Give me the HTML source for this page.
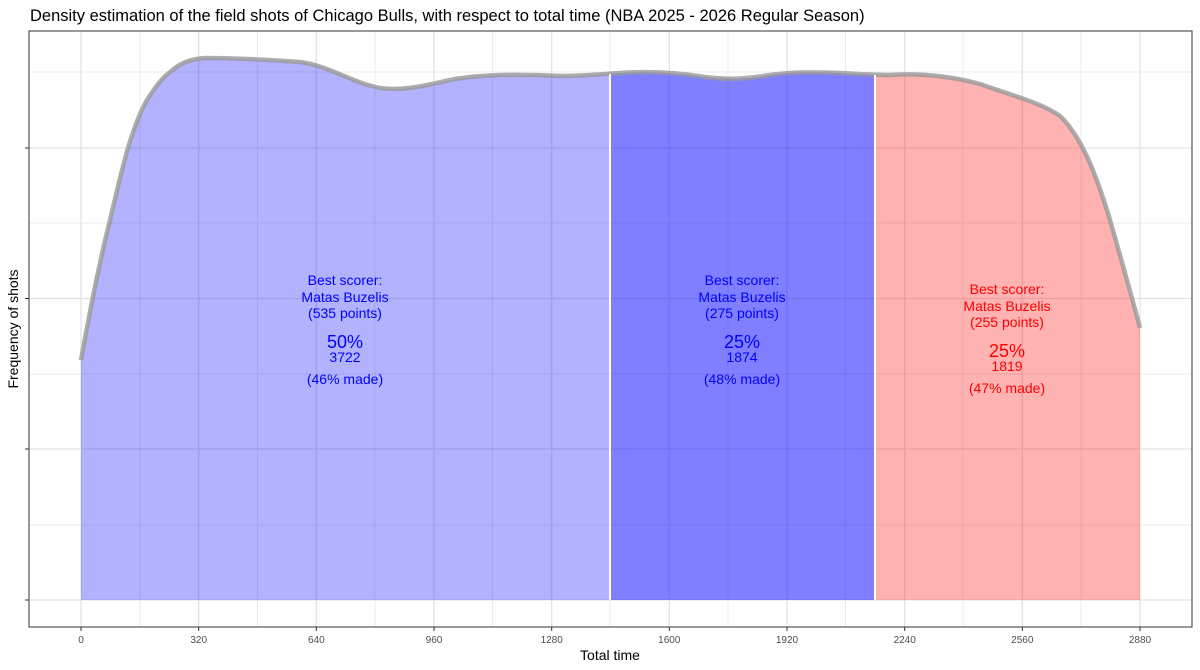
<!DOCTYPE html>
<html><head><meta charset="utf-8"><style>body{margin:0;background:#fff}svg{display:block;font-family:"Liberation Sans",sans-serif}</style></head><body>
<svg width="1200" height="670" viewBox="0 0 1200 670">
<text x="30" y="21" font-size="16.5" fill="#000">Density estimation of the field shots of Chicago Bulls, with respect to total time (NBA 2025 - 2026 Regular Season)</text>
<rect x="29" y="31" width="1163" height="596" fill="#fff"/>
<g stroke="#ebebeb" stroke-width="1">
<line x1="29" x2="1192" y1="72" y2="72"/><line x1="29" x2="1192" y1="223" y2="223"/><line x1="29" x2="1192" y1="374" y2="374"/><line x1="29" x2="1192" y1="525" y2="525"/>
<line y1="31" y2="627" x1="140" x2="140"/><line y1="31" y2="627" x1="257.5" x2="257.5"/><line y1="31" y2="627" x1="375" x2="375"/><line y1="31" y2="627" x1="492.5" x2="492.5"/><line y1="31" y2="627" x1="610" x2="610"/><line y1="31" y2="627" x1="728" x2="728"/><line y1="31" y2="627" x1="845.5" x2="845.5"/><line y1="31" y2="627" x1="963" x2="963"/><line y1="31" y2="627" x1="1081" x2="1081"/>
</g>
<g stroke="#e3e3e3" stroke-width="1.3">
<line x1="29" x2="1192" y1="148" y2="148"/><line x1="29" x2="1192" y1="298.5" y2="298.5"/><line x1="29" x2="1192" y1="449" y2="449"/><line x1="29" x2="1192" y1="600" y2="600"/>
<line y1="31" y2="627" x1="81" x2="81"/><line y1="31" y2="627" x1="198.7" x2="198.7"/><line y1="31" y2="627" x1="316.3" x2="316.3"/><line y1="31" y2="627" x1="434" x2="434"/><line y1="31" y2="627" x1="551.7" x2="551.7"/><line y1="31" y2="627" x1="669.3" x2="669.3"/><line y1="31" y2="627" x1="787" x2="787"/><line y1="31" y2="627" x1="904.7" x2="904.7"/><line y1="31" y2="627" x1="1022.3" x2="1022.3"/><line y1="31" y2="627" x1="1140" x2="1140"/>
</g>
<defs>
<path id="c" d="M81,360 C90,310 100,260 110,220 C116,195 122,168 128,148 C134,128 140,112 147,100 C155,87 162,78 170,72 C180,63 190,59 205,58 C240,58 270,60 300,62 C330,66 350,82 380,88 C400,91 420,87 450,80 C480,74 520,74 560,76 C585,76 600,74 620,73 C650,71 680,73 705,77 C730,80 745,79 770,75 C790,72 810,72 840,73 C860,74 875,75 890,75 C920,73 950,76 980,84 C1010,95 1040,102 1060,116 C1080,135 1095,170 1110,220 C1120,255 1130,290 1140,328"/>
<path id="f" d="M81,360 C90,310 100,260 110,220 C116,195 122,168 128,148 C134,128 140,112 147,100 C155,87 162,78 170,72 C180,63 190,59 205,58 C240,58 270,60 300,62 C330,66 350,82 380,88 C400,91 420,87 450,80 C480,74 520,74 560,76 C585,76 600,74 620,73 C650,71 680,73 705,77 C730,80 745,79 770,75 C790,72 810,72 840,73 C860,74 875,75 890,75 C920,73 950,76 980,84 C1010,95 1040,102 1060,116 C1080,135 1095,170 1110,220 C1120,255 1130,290 1140,328 L1140,600 L81,600 Z"/>
<clipPath id="a"><rect x="81" y="0" width="529" height="600"/></clipPath>
<clipPath id="b"><rect x="610" y="0" width="265" height="600"/></clipPath>
<clipPath id="r"><rect x="875" y="0" width="265" height="600"/></clipPath>
</defs>
<g clip-path="url(#a)"><use href="#f" fill="#0000ff" fill-opacity="0.3"/></g>
<g clip-path="url(#b)"><use href="#f" fill="#0000ff" fill-opacity="0.5"/></g>
<g clip-path="url(#r)"><use href="#f" fill="#ff0000" fill-opacity="0.3"/></g>
<use href="#c" fill="none" stroke="#999" stroke-opacity="0.8" stroke-width="4.5"/>
<line x1="610" x2="610" y1="74" y2="600" stroke="#fff" stroke-width="2"/>
<line x1="875" x2="875" y1="75" y2="600" stroke="#fff" stroke-width="2"/>
<rect x="29" y="31" width="1163" height="596" fill="none" stroke="#333" stroke-width="1"/>
<g font-size="14" text-anchor="middle" fill="#0000ff">
<text x="345" y="285">Best scorer:</text><text x="345" y="302">Matas Buzelis</text><text x="345" y="318">(535 points)</text>
<text x="345" y="348" font-size="18">50%</text><text x="345" y="362">3722</text><text x="345" y="384">(46% made)</text>
<text x="742" y="285">Best scorer:</text><text x="742" y="302">Matas Buzelis</text><text x="742" y="318">(275 points)</text>
<text x="742" y="348" font-size="18">25%</text><text x="742" y="362">1874</text><text x="742" y="384">(48% made)</text>
</g>
<g font-size="14" text-anchor="middle" fill="#ff0000">
<text x="1007" y="294">Best scorer:</text><text x="1007" y="311">Matas Buzelis</text><text x="1007" y="327">(255 points)</text>
<text x="1007" y="357" font-size="18">25%</text><text x="1007" y="371">1819</text><text x="1007" y="393">(47% made)</text>
</g>
<g stroke="#333" stroke-width="1">
<line x1="25" x2="29" y1="148" y2="148"/><line x1="25" x2="29" y1="298.5" y2="298.5"/><line x1="25" x2="29" y1="449" y2="449"/><line x1="25" x2="29" y1="600" y2="600"/>
<line y1="627" y2="631" x1="81" x2="81"/><line y1="627" y2="631" x1="198.7" x2="198.7"/><line y1="627" y2="631" x1="316.3" x2="316.3"/><line y1="627" y2="631" x1="434" x2="434"/><line y1="627" y2="631" x1="551.7" x2="551.7"/><line y1="627" y2="631" x1="669.3" x2="669.3"/><line y1="627" y2="631" x1="787" x2="787"/><line y1="627" y2="631" x1="904.7" x2="904.7"/><line y1="627" y2="631" x1="1022.3" x2="1022.3"/><line y1="627" y2="631" x1="1140" x2="1140"/>
</g>
<g font-size="10" fill="#4d4d4d" text-anchor="middle">
<text x="81" y="643">0</text><text x="198.7" y="643">320</text><text x="316.3" y="643">640</text><text x="434" y="643">960</text><text x="551.7" y="643">1280</text><text x="669.3" y="643">1600</text><text x="787" y="643">1920</text><text x="904.7" y="643">2240</text><text x="1022.3" y="643">2560</text><text x="1140" y="643">2880</text>
</g>
<text x="610" y="660" font-size="14" text-anchor="middle">Total time</text>
<text transform="translate(18,329) rotate(-90)" font-size="14" text-anchor="middle">Frequency of shots</text>
</svg>
</body></html>
